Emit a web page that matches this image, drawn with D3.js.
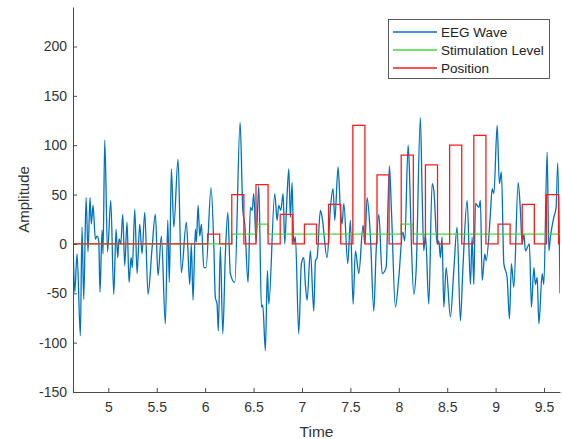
<!DOCTYPE html>
<html>
<head>
<meta charset="utf-8">
<script src="https://cdn.jsdelivr.net/npm/d3@7"></script>
<style>
  html, body { margin: 0; padding: 0; background: #fff; }
  svg { display: block; font-family: "Liberation Sans", Arial, Helvetica, sans-serif; }
</style>
</head>
<body>
<svg id="chart" width="562" height="439"></svg>
<script>
// EEG trace: sample times (s) and amplitudes
const eegTime = [
  4.635, 4.653, 4.677, 4.711, 4.728, 4.746, 4.770, 4.790, 4.811, 4.824,
  4.842, 4.866, 4.883, 4.901, 4.914, 4.935, 4.945, 4.963, 4.992, 5.025,
  5.056, 5.080, 5.097, 5.111, 5.128, 5.149, 5.169, 5.193, 5.214, 5.235,
  5.248, 5.273, 5.297, 5.324, 5.348, 5.376, 5.410, 5.451, 5.486, 5.513,
  5.548, 5.589, 5.614, 5.630, 5.651, 5.676, 5.720, 5.754, 5.806, 5.841,
  5.857, 5.875, 5.899, 5.909, 5.927, 5.944, 5.961, 5.986, 6.009, 6.061,
  6.089, 6.105, 6.123, 6.136, 6.157, 6.182, 6.209, 6.234, 6.260, 6.306,
  6.361, 6.389, 6.409, 6.443, 6.467, 6.485, 6.502, 6.526, 6.554, 6.581,
  6.595, 6.622, 6.643, 6.657, 6.719, 6.743, 6.760, 6.781, 6.805, 6.822,
  6.839, 6.864, 6.880, 6.898, 6.915, 6.932, 6.967, 6.994, 7.019, 7.035,
  7.053, 7.087, 7.122, 7.139, 7.156, 7.190, 7.208, 7.259, 7.294, 7.321,
  7.339, 7.373, 7.397, 7.414, 7.432, 7.473, 7.500, 7.528, 7.552, 7.587,
  7.631, 7.649, 7.673, 7.707, 7.742, 7.766, 7.794, 7.828, 7.869, 7.903,
  7.924, 7.965, 8.000, 8.041, 8.062, 8.096, 8.110, 8.130, 8.155, 8.179,
  8.223, 8.241, 8.258, 8.275, 8.310, 8.344, 8.362, 8.396, 8.413, 8.430,
  8.447, 8.465, 8.489, 8.533, 8.568, 8.602, 8.636, 8.661, 8.706, 8.740,
  8.757, 8.775, 8.792, 8.827, 8.843, 8.861, 8.889, 8.902, 8.946, 8.964,
  8.982, 9.016, 9.039, 9.060, 9.085, 9.119, 9.143, 9.163, 9.188, 9.233,
  9.256, 9.274, 9.292, 9.308, 9.349, 9.370, 9.395, 9.411, 9.429, 9.447,
  9.481, 9.498, 9.532, 9.550, 9.566, 9.601, 9.625, 9.642, 9.665
];
const eegAmp = [
    8,  -49,  -10,  -93,   17,  -56,   47,   -8,   47,   20,
   39,    5,    8,    3,  -49,   14,  -10,  105,   -8,   44,
  -51,   15,  -14,    5,    0,   30,  -22,   22,  -39,  -14,
  -24,   35,  -30,   20,  -10,   32,  -51,   -5,   30,  -32,
    8,  -81,   24,  -39,   76,   17,   86,  -29,   22,  -41,
    0,  -57,   15,    2,   39,    8,   20,  -24,  -24,   57,
    0,  -54,  -61,  -88,   -3,  -91,  -10,   32,  -30,  -39,
  123,   34,   20,  -39,   37,   34,   51,    2,   59,  -64,
  -62, -108,  -27,  -61,   51,   24,   39,   34,   51,    0,
   34,   76,   27,   62,    0,    7,  -91,  -20,  -14,  -41,
  -57,   -7,  -68,  -17,  -14,   34,   27,  -14,   37,   56,
   24,   78,   34,   20,   41,  -20,   24,  -61,   -7,  -30,
   19,    0,   47,    7,  -68,   -7,   30,  -30,  -24,   79,
   34,  -64,  -34,   12,    3,  100,   74,    0,  -51,  -27,
  128,   51,   -7,   10,  -61,   61,   54,    0,    3,  -14,
    7,  -64,  -24,  -74,  -27,   17,  -78,  -27,   44,  -41,
    7,  -41,   41,   37,   44,  -37,  -10,  -17,   30,   56,
   51,  120,   61,   73,  -20,  -34,  -76,  -20,  -44,   62,
   34,    0,   10,   -7,    0,  -64,  -24,  -41,  -34,  -81,
  -30,  -41,   93,   -7,    7,   27,   37,   82,  -50
];

// Stimulation level: value changes at these times
const stimTime  = [4.635, 6.275, 6.525, 6.650, 8.025, 8.150];
const stimLevel = [0, 10, 20, 10, 20, 10];

// Position: rectangular pulses (start time, level), each lasting pulseWidth
const pulseStart = [6.025, 6.275, 6.525, 6.775, 7.025, 7.275, 7.525, 7.775,
                    8.025, 8.275, 8.525, 8.775, 9.025, 9.275, 9.525];
const pulseLevel = [10, 50, 60, 30, 20, 40, 120, 70, 90, 80, 100, 110, 20, 40, 50];
const pulseWidth = 0.125;

// Axis ticks
const xTicks = [5, 5.5, 6, 6.5, 7, 7.5, 8, 8.5, 9, 9.5];
const yTicks = [-150, -100, -50, 0, 50, 100, 150, 200];

const tStart = 4.635, tEnd = 9.665;
const legendNames  = ["EEG Wave", "Stimulation Level", "Position"];
const seriesColors = ["#0072BD", "#3fdd3f", "#ff1a1a"];

const svg = d3.select("#chart");
const m = { left: 73, right: 2, top: 7, bottom: 47 };
const W = 562, H = 439;

const x = d3.scaleLinear().domain([tStart, tEnd]).range([m.left, W - m.right]);
const y = d3.scaleLinear().domain([-150, 240]).range([H - m.bottom, m.top]);

svg.append("defs").append("clipPath").attr("id", "plotArea")
  .append("rect")
  .attr("x", m.left).attr("y", m.top)
  .attr("width", W - m.right - m.left).attr("height", H - m.bottom - m.top);

const plot = svg.append("g").attr("clip-path", "url(#plotArea)");

// EEG wave
const eeg = eegTime.map((t, i) => [t, eegAmp[i]]);
plot.append("path")
  .datum(eeg)
  .attr("fill", "none")
  .attr("stroke", seriesColors[0])
  .attr("stroke-width", 1.3)
  .attr("stroke-linejoin", "round")
  .attr("d", d3.line().x(d => x(d[0])).y(d => y(d[1])).curve(d3.curveMonotoneX));

// Stimulation level (step)
const stim = stimTime.map((t, i) => [t, stimLevel[i]]);
stim.push([tEnd, stimLevel[stimLevel.length - 1]]);
plot.append("path")
  .datum(stim)
  .attr("fill", "none")
  .attr("stroke", seriesColors[1])
  .attr("stroke-width", 1.3)
  .attr("d", d3.line().x(d => x(d[0])).y(d => y(d[1])).curve(d3.curveStepAfter));

// Position (pulse train)
const pos = [[tStart, 0]];
pulseStart.forEach((s, i) => {
  pos.push([s, pulseLevel[i]]);
  pos.push([s + pulseWidth, 0]);
});
pos.push([tEnd, 0]);
plot.append("path")
  .datum(pos)
  .attr("fill", "none")
  .attr("stroke", seriesColors[2])
  .attr("stroke-width", 1.3)
  .attr("d", d3.line().x(d => x(d[0])).y(d => y(d[1])).curve(d3.curveStepAfter));

// Axes (ticks pointing inward, plain hyphen for negatives)
const axisColor = "#4a4a4a";
const plainNum = d => String(d);
const xAxis = svg.append("g")
  .attr("transform", `translate(0,${H - m.bottom})`)
  .call(d3.axisBottom(x).tickValues(xTicks).tickSizeInner(-4).tickSizeOuter(0).tickPadding(10)
        .tickFormat(plainNum));
const yAxis = svg.append("g")
  .attr("transform", `translate(${m.left},0)`)
  .call(d3.axisLeft(y).tickValues(yTicks).tickSizeInner(-4).tickSizeOuter(0).tickPadding(6)
        .tickFormat(plainNum));

[xAxis, yAxis].forEach(g => {
  g.select(".domain").attr("stroke", axisColor).attr("stroke-width", 1);
  g.selectAll(".tick line").attr("stroke", axisColor);
  g.selectAll(".tick text")
    .attr("fill", "#333")
    .style("font-size", "14px")
    .style("font-family", "'Liberation Sans', Arial, sans-serif");
});

// Axis titles
svg.append("text")
  .attr("x", (m.left + W - m.right) / 2)
  .attr("y", 437)
  .attr("text-anchor", "middle")
  .attr("fill", "#333")
  .style("font-size", "15.5px")
  .text("Time");

svg.append("text")
  .attr("transform", `translate(29,${(m.top + H - m.bottom) / 2}) rotate(-90)`)
  .attr("text-anchor", "middle")
  .attr("fill", "#333")
  .style("font-size", "15px")
  .text("Amplitude");

// Legend
const lg = svg.append("g");
lg.append("rect")
  .attr("x", 388.5).attr("y", 19.5)
  .attr("width", 161).attr("height", 59)
  .attr("fill", "#fff")
  .attr("stroke", "#333")
  .attr("stroke-width", 0.8);
legendNames.forEach((name, i) => {
  const ly = 32 + i * 18;
  lg.append("line")
    .attr("x1", 393).attr("x2", 437)
    .attr("y1", ly).attr("y2", ly)
    .attr("stroke", seriesColors[i])
    .attr("stroke-width", 1.3);
  lg.append("text")
    .attr("x", 441).attr("y", ly)
    .attr("dy", "0.35em")
    .attr("fill", "#222")
    .style("font-size", "13.5px")
    .text(name);
});
</script>
</body>
</html>
